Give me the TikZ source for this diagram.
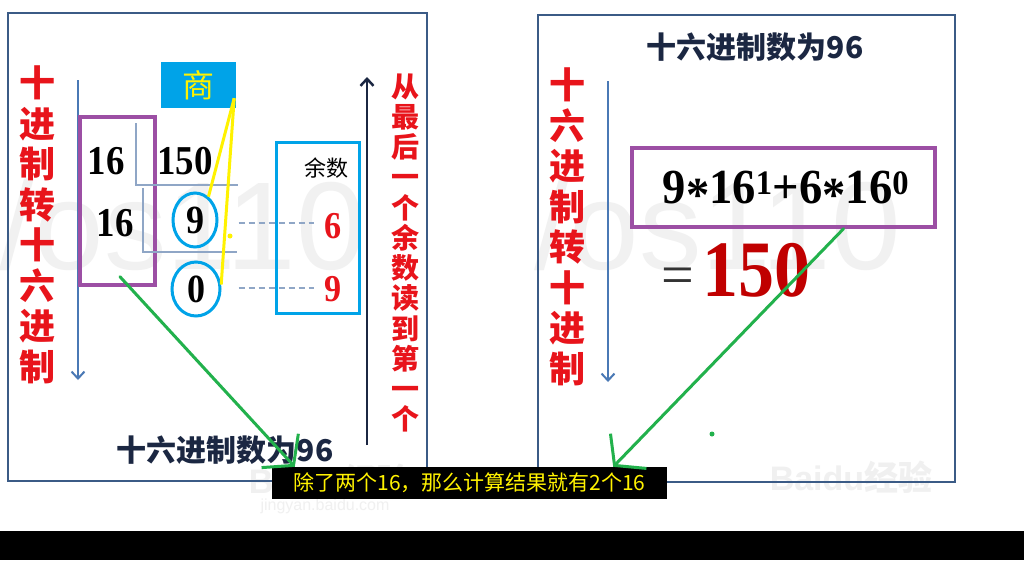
\documentclass[tikz,border=0pt]{standalone}
\usepackage{fontspec}
\usepackage{tikz}
\newfontfamily\cjk{Noto Sans CJK SC}
\newfontfamily\wmfont{Liberation Sans}
\newfontfamily\numfont{Liberation Serif}
\usetikzlibrary{arrows.meta,calc,positioning,shapes.geometric}

\definecolor{frameblue}{HTML}{3B5B86}
\definecolor{arrowblue}{HTML}{4A79B5}
\definecolor{navy}{HTML}{1B2742}
\definecolor{redtxt}{HTML}{E8141B}
\definecolor{darkred}{HTML}{C00000}
\definecolor{purplec}{HTML}{9C4FA4}
\definecolor{cyanc}{HTML}{00A3E8}
\definecolor{lineblue}{HTML}{8FA6C6}
\definecolor{greenc}{HTML}{22B14C}

\newcommand\digs[2]{\scalebox{0.9}[1]{\numfont\fontsize{#1}{#1}\selectfont\bfseries #2}}
\newcommand\mstar{\raisebox{-0.17em}{*}}

\tikzset{
    frame/.style={draw=frameblue, line width=2pt},
    redcol/.style={text=redtxt, align=center, font=\cjk\bfseries\fontsize{36}{40.5}\selectfont},
    downarr/.style={draw=arrowblue, line width=2pt, -{Straight Barb[length=7pt,width=13pt]}},
    divline/.style={draw=lineblue, line width=1.5pt},
    dashline/.style={draw=lineblue, line width=1.5pt, dash pattern=on 6pt off 4pt},
    ring/.style={ellipse, draw=cyanc, line width=3pt},
    pbox/.style={draw=purplec, line width=3.5pt},
    yline/.style={draw=yellow, line width=3pt},
    garrow/.style={draw=greenc, line width=3pt, line cap=round, -{Straight Barb[length=20pt,width=50pt]}},
    wmark/.style={text=gray!11, font=\wmfont\fontsize{125}{125}\selectfont}
}

\begin{document}
\begin{tikzpicture}[x=1pt, y=-1pt, every node/.style={inner sep=0pt}]
  \useasboundingbox (0,0) rectangle (1024,560);
  \fill[white] (0,0) rectangle (1024,531);
  \fill[black] (0,531) rectangle (1024,560);

  % watermarks
  \node[wmark] (wmL) at (183,225) {/os110};
  \node[wmark] (wmR) at (718,225) {/os110};
  \node[text=gray!12, font=\wmfont\bfseries\fontsize{34}{34}\selectfont] (bdL) at (330,480) {Baidu{\cjk 经验}};
  \node[text=gray!12, font=\wmfont\fontsize{16}{16}\selectfont] (bdUrl) at (325,506) {jingyan.baidu.com};
  \node[text=gray!12, font=\wmfont\bfseries\fontsize{34}{34}\selectfont] (bdR) at (851,477) {Baidu{\cjk 经验}};

  % left panel
  \draw[frame] (8,13) rectangle (427,481);
  \node[redcol] (ltitle) at (37,225) {十\\进\\制\\转\\十\\六\\进\\制};
  \coordinate (ldTop) at (78,80);
  \coordinate (ldBot) at (78,380);
  \draw[downarr] (ldTop) -- (ldBot);

  \node[pbox, minimum width=75, minimum height=168] (lbox) at (117.5,201) {};
  \node (d1) at (106,161) {\digs{41}{16}};
  \node (d2) at (115,223) {\digs{41}{16}};
  \node (n150) at (185,161) {\digs{41}{150}};
  \draw[divline] (136,123) -- (136,185) -- (238,185);
  \draw[divline] (143,188) -- (143,252) -- (237,252);

  \node[ring, minimum width=44, minimum height=54] (n9) at (195,220) {\digs{40}{9}};
  \node[ring, minimum width=48, minimum height=54] (n0) at (196,289) {\digs{40}{0}};

  \node[fill=cyanc, minimum width=75, minimum height=46, text=yellow,
        font=\cjk\fontsize{32}{32}\selectfont] (shang) at (198.5,85) {商};
  \draw[yline] ([xshift=-2pt,yshift=10pt]shang.south east) -- (n9.60);
  \draw[yline] ([xshift=-2pt,yshift=10pt]shang.south east) -- (n0.10);
  \fill[yellow] (230,236) circle (2.5);

  \node[draw=cyanc, line width=3pt, minimum width=83, minimum height=171] (remBox) at (317.5,227.5) {};
  \node[font=\cjk\fontsize{22}{22}\selectfont] (remLbl) at (326,168) {余数};
  \node[text=redtxt] (r6) at (333,226) {\digs{38}{6}};
  \node[text=redtxt] (r9) at (333,289) {\digs{38}{9}};
  \draw[dashline] ($(n9.east |- r6.west)+(20,-3)$) -- ($(r6.west)+(-10,-3)$);
  \draw[dashline] ($(n0.east |- r9.west)+(17,-1)$) -- ($(r9.west)+(-10,-1)$);

  \coordinate (upBot) at (367,445);
  \coordinate (upTop) at (367,77);
  \draw[draw=navy, line width=2.5pt, -{Straight Barb[length=7pt,width=13pt]}] (upBot) -- (upTop);
  \node[redcol, font=\cjk\bfseries\fontsize{28}{30.25}\selectfont] (readDir) at (405,253)
       {从\\最\\后\\一\\个\\余\\数\\读\\到\\第\\一\\个};

  \node[text=navy, font=\cjk\bfseries\fontsize{30}{30}\selectfont] (lres) at (225,450) {十六进制数为96};

  % right panel
  \draw[frame] (538,15) rectangle (955,482);
  \node[text=navy, font=\cjk\bfseries\fontsize{30}{30}\selectfont] (rres) at (755,47) {十六进制数为96};
  \node[redcol] (rtitle) at (567,227) {十\\六\\进\\制\\转\\十\\进\\制};
  \coordinate (rdTop) at (608,81);
  \coordinate (rdBot) at (608,382);
  \draw[downarr] (rdTop) -- (rdBot);

  \node[pbox, minimum width=303, minimum height=79] (fbox) at (783.5,187.5) {};
  \node (formula) at (786,191)
       {\scalebox{0.95}[1]{\numfont\bfseries\fontsize{49}{49}\selectfont 9\mstar16\textsuperscript{1}+6\mstar16\textsuperscript{0}}};
  \node[text=black!80] (eq) at (678,281) {\numfont\fontsize{58}{58}\selectfont =};
  \node[text=darkred] (res) at (756,270) {\digs{80}{150}};
  \fill[greenc] (712,434) circle (2.5);

  % note and arrows
  \node[fill=black, text=yellow, minimum width=395, minimum height=32,
        font=\cjk\fontsize{21}{21}\selectfont] (note) at (469.5,483) {除了两个16，那么计算结果就有2个16};
  \draw[garrow] ([xshift=2.5pt,yshift=10pt]lbox.south) -- ([xshift=23pt]note.north west);
  \draw[garrow] ([xshift=60pt]fbox.south) -- ([xshift=-54pt]note.north east);
\end{tikzpicture}
\end{document}
